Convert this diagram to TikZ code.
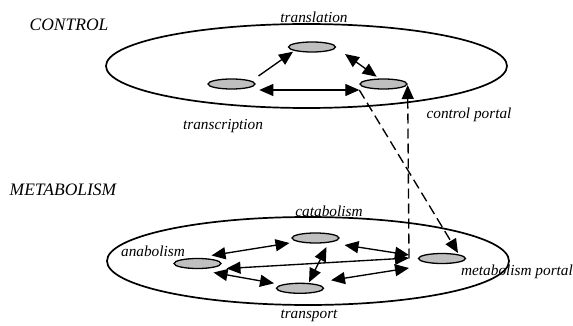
\documentclass[tikz,border=0pt]{standalone}
\usepackage{fontspec}
\setmainfont{Liberation Serif}
\usetikzlibrary{arrows.meta,shapes.geometric,calc}
\begin{document}
\begin{tikzpicture}[x=1pt,y=-1pt,
  region/.style={draw, ellipse, line width=1.7pt, inner sep=0pt},
  proc/.style={draw, ellipse, fill=black!25, line width=1.3pt, minimum width=47pt, minimum height=10pt, inner sep=0pt},
  lab/.style={font=\fontsize{15.3}{18}\selectfont\itshape, inner sep=0pt},
  head/.style={font=\fontsize{17.5}{20}\selectfont\itshape, inner sep=0pt},
  arr/.style={line width=1.35pt, -{Triangle[length=14pt,width=12pt]}},
  darr/.style={line width=1.35pt, {Triangle[length=14pt,width=12pt]}-{Triangle[length=14pt,width=12pt]}},
  dlink/.style={line width=1.35pt, dash pattern=on 10pt off 5pt, -{Triangle[length=14pt,width=12pt]}}
]
\useasboundingbox (0,0) rectangle (573,326);
% regions
\node[region, minimum width=401pt, minimum height=84pt] (ctrl) at (306.5,66) {};
\node[region, minimum width=402pt, minimum height=88pt] (meta) at (308,261) {};
% control processes
\node[proc] (tc) at (231.5,84) {};
\node[proc] (tl) at (312,47) {};
\node[proc] (cp) at (383.5,84) {};
% metabolism processes
\node[proc] (ca) at (315.5,238) {};
\node[proc] (an) at (197.5,263.5) {};
\node[proc] (trn) at (300,288.3) {};
\node[proc] (mp) at (442,258.5) {};
\coordinate (J) at ($(mp)+(-33,0)$);
% labels
\node[head] (lcontrol) at (69,25) {CONTROL};
\node[head] (lmeta) at (63,190) {METABOLISM};
\node[lab] (ltl) at (314,17) {translation};
\node[lab] (ltc) at (223,126) {transcription};
\node[lab] (lcp) at (469,115) {control portal};
\node[lab] (lca) at (329,211) {catabolism};
\node[lab] (lan) at (153,251) {anabolism};
\node[lab] (ltrn) at (309,316) {transport};
\node[lab] (lmp) at (517,272) {metabolism portal};
% control arrows
\draw[arr] ($(tc)+(27,-8)$) -- ($(tl)+(-19,4.7)$);
\draw[darr] ($(tl)+(33,7)$) -- ($(cp)+(-6.8,-7.3)$);
\draw[darr] ($(tc)+(27.8,6)$) -- ($(cp)+(-24.2,6)$);
% portal links
\draw[dlink] ($(cp)+(-24.2,6)$) -- ($(mp)+(16,-5.5)$);
\draw[dlink] (J) -- ($(cp.east)+(0,1)$);
% metabolism arrows
\draw[darr] ($(an)+(14,-8)$) -- ($(ca)+(-26,5)$);
\draw[darr] ($(ca)+(29,7)$) -- ($(J)+(0,-3.5)$);
\draw[darr] ($(an)+(29,5)$) -- ($(J)+(0,-0.5)$);
\draw[darr] ($(ca)+(11,9)$) -- ($(trn)+(9,-6)$);
\draw[darr] ($(an)+(16,9)$) -- ($(trn)+(-26,-5)$);
\draw[darr] ($(trn)+(31,-8)$) -- ($(J)+(0,9.5)$);
\end{tikzpicture}
\end{document}
